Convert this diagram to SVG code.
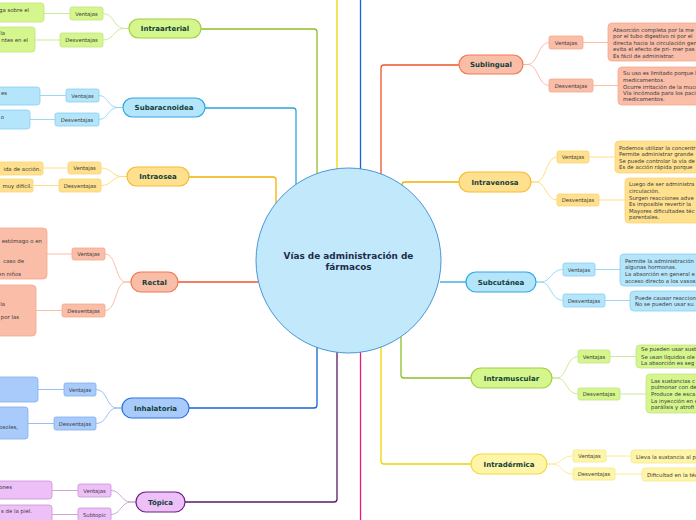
<svg xmlns="http://www.w3.org/2000/svg" width="696" height="520" viewBox="0 0 696 520">
<style>
text{font-family:"DejaVu Sans","Liberation Sans",sans-serif;}
.mt{font-size:7px;font-weight:bold;fill:#123f38;text-anchor:middle;}
.st{font-size:5.3px;fill:#3a3a3a;text-anchor:middle;}
.lt{font-size:5.4px;fill:#3a3a3a;}
.le{font-size:5.4px;fill:#3a3a3a;text-anchor:end;}
.c{fill:none;stroke-width:1.3;}
.s{fill:none;stroke-width:0.9;}
.gr .m{fill:#d5f58d;stroke:#9fd040;stroke-width:1.2;} .gr .b{fill:#d5f58d;stroke:#c2e585;stroke-width:0.8;}
.lb .m{fill:#b5e5fb;stroke:#2ea8e3;stroke-width:1.2;} .lb .b{fill:#b5e5fb;stroke:#86d0f3;stroke-width:0.8;}
.og .m{fill:#ffe08f;stroke:#f7bb2e;stroke-width:1.2;} .og .b{fill:#ffe08f;stroke:#fcd472;stroke-width:0.8;}
.sa .m{fill:#f9bda8;stroke:#f07a52;stroke-width:1.2;} .sa .b{fill:#f9bda8;stroke:#f6a88c;stroke-width:0.8;}
.bl .m{fill:#a9cbfb;stroke:#2a72de;stroke-width:1.2;} .bl .b{fill:#a9cbfb;stroke:#7eaef0;stroke-width:0.8;}
.pu .m{fill:#eec0f8;stroke:#6e1f80;stroke-width:1.2;} .pu .b{fill:#eec0f8;stroke:#c693d6;stroke-width:0.8;}
.ye .m{fill:#fff5a8;stroke:#f0da3a;stroke-width:1.2;} .ye .b{fill:#fff5a8;stroke:#f5e88a;stroke-width:0.8;}
</style>
<g id="connectors">
<path class="c" stroke="#8cc026" d="M201,29 H314 Q317,29 317,32 V174"/>
<path class="c" stroke="#29a3e0" d="M205,108 H293 Q296,108 296,111 V185"/>
<path class="c" stroke="#f5b000" d="M189,177 H273 Q276,177 276,180 V204"/>
<path class="c" stroke="#f0d400" d="M337,0 V169"/>
<path class="c" stroke="#1565d8" d="M360.5,0 V169"/>
<path class="c" stroke="#f0532a" d="M459,65 H384 Q381,65 381,68 V175"/>
<path class="c" stroke="#f5b000" d="M402,186 V185 Q402,182 405,182 H459"/>
<path class="c" stroke="#29a3e0" d="M440,282 H466"/>
<path class="c" stroke="#f0532a" d="M178,282 H258"/>
<path class="c" stroke="#8cc026" d="M401,336 V375 Q401,378 404,378 H471"/>
<path class="c" stroke="#f0d400" d="M381,347 V461 Q381,464 384,464 H471"/>
<path class="c" stroke="#1565d8" d="M317,347 V405 Q317,408 314,408 H189"/>
<path class="c" stroke="#5a1a6a" d="M337,352 V499 Q337,502 334,502 H185"/>
<path class="c" stroke="#f0157a" d="M360.5,352 V520"/>
<!-- subtopic curves left -->
<path class="s" stroke="#c6e68f" d="M129,28.5 L124,28.5 C114,28.5 114,13.5 103,13.5 M129,28.5 L124,28.5 C114,28.5 114,40 103,40 M70,13.5 H44 M60,40 H35"/>
<path class="s" stroke="#8fd4f5" d="M123,107.5 L118,107.5 C108,107.5 108,95.5 99,95.5 M123,107.5 L118,107.5 C108,107.5 108,119.5 99,119.5 M66,95.5 H40 M55,119.5 H30"/>
<path class="s" stroke="#ffd97a" d="M127,176.5 L122,176.5 C112,176.5 112,168 101,168 M127,176.5 L122,176.5 C112,176.5 112,185.5 101,185.5 M68,168 H43 M59,185.5 H33"/>
<path class="s" stroke="#f9b7a0" d="M131,282 L126,282 C115,282 117,254 105,254 M131,282 L126,282 C115,282 117,310.5 105,310.5 M72,254 H47 M62,310.5 H36"/>
<path class="s" stroke="#8fb8f2" d="M122,408 L117,408 C106,408 108,389.5 96,389.5 M122,408 L117,408 C106,408 108,423.5 96,423.5 M64,389.5 H38 M54,423.5 H28"/>
<path class="s" stroke="#c99ad6" d="M136,502 L131,502 C121,502 121,490.5 111,490.5 M136,502 L131,502 C121,502 121,514.5 111,514.5 M78,490.5 H52 M78,514.5 H52"/>
<!-- subtopic curves right -->
<path class="s" stroke="#f9b7a0" d="M523,64.5 L528,64.5 C538,64.5 538,42.5 549,42.5 M523,64.5 L528,64.5 C538,64.5 538,85.5 549,85.5 M583,42.5 H608 M593,85.5 H618"/>
<path class="s" stroke="#ffd97a" d="M531,182 L536,182 C546,182 546,157 557,157 M531,182 L536,182 C546,182 546,200 557,200 M589,157 H615 M599,200 H625"/>
<path class="s" stroke="#8fd4f5" d="M536,282 L541,282 C551,282 551,269.5 563,269.5 M536,282 L541,282 C551,282 551,300.5 563,300.5 M595,269.5 H620 M605,300.5 H630"/>
<path class="s" stroke="#c6e68f" d="M552,378 L557,378 C567,378 566,356.5 578,356.5 M552,378 L557,378 C567,378 566,394 578,394 M610,356.5 H636 M620,394 H646"/>
<path class="s" stroke="#f7ec8a" d="M547,464 L552,464 C562,464 561,456 573,456 M547,464 L552,464 C562,464 561,474 573,474 M606,456 H631 M615,474 H642"/>
</g>
<g id="center">
<circle cx="348.5" cy="260.5" r="92.5" fill="#c2e9fb" stroke="#4a96d6" stroke-width="1"/>
<text x="348.5" y="259" font-size="8.9" font-weight="bold" fill="#1c2c4c" text-anchor="middle">Vías de administración de</text>
<text x="348.5" y="270" font-size="8.9" font-weight="bold" fill="#1c2c4c" text-anchor="middle">fármacos</text>
</g>
<g id="intraarterial" class="gr">
<rect class="m" x="129" y="19" width="72" height="19" rx="9.5"/>
<text class="mt" x="165" y="31">Intraarterial</text>
<rect class="b" x="70" y="7" width="33" height="13" rx="2"/><text class="st" x="86.5" y="15.5">Ventajas</text>
<rect class="b" x="60" y="33" width="43" height="14" rx="2"/><text class="st" x="81.5" y="42">Desventajas</text>
<rect class="b" x="-10" y="3" width="54" height="19" rx="3"/><text class="le" x="29" y="12">ga sobre el</text>
<rect class="b" x="-10" y="27" width="45" height="25" rx="3"/><text class="le" x="5" y="35">la</text><text class="le" x="28" y="42">ntes en el</text>
</g>
<g id="subaracnoidea" class="lb">
<rect class="m" x="123" y="98" width="82" height="19" rx="9.5"/>
<text class="mt" x="164" y="110">Subaracnoidea</text>
<rect class="b" x="66" y="89" width="33" height="13" rx="2"/><text class="st" x="82.5" y="97.5">Ventajas</text>
<rect class="b" x="55" y="113" width="44" height="13" rx="2"/><text class="st" x="77" y="121.5">Desventajas</text>
<rect class="b" x="-10" y="87" width="50" height="18" rx="3"/><text class="le" x="7" y="95">es</text>
<rect class="b" x="-10" y="110" width="40" height="19" rx="3"/><text class="le" x="4" y="119">o</text>
</g>
<g id="intraosea" class="og">
<rect class="m" x="127" y="167" width="62" height="19" rx="9.5"/>
<text class="mt" x="158" y="179">Intraosea</text>
<rect class="b" x="68" y="162" width="33" height="12" rx="2"/><text class="st" x="84.5" y="170">Ventajas</text>
<rect class="b" x="59" y="179" width="42" height="13" rx="2"/><text class="st" x="80" y="187.5">Desventajas</text>
<rect class="b" x="-10" y="162" width="53" height="13" rx="2"/><text class="le" x="41" y="170.5">ida de acción.</text>
<rect class="b" x="-10" y="179" width="43" height="13" rx="2"/><text class="le" x="32" y="187.5">muy difícil.</text>
</g>
<g id="rectal" class="sa">
<rect class="m" x="131" y="272" width="47" height="20" rx="10"/>
<text class="mt" x="154.5" y="284.5">Rectal</text>
<rect class="b" x="72" y="248" width="33" height="12" rx="2"/><text class="st" x="88.5" y="256">Ventajas</text>
<rect class="b" x="62" y="304" width="43" height="13" rx="2"/><text class="st" x="83.5" y="312.5">Desventajas</text>
<rect class="b" x="-10" y="228" width="57" height="51" rx="4"/><text class="le" x="42" y="243">estómago o en</text><text class="le" x="24" y="263">caso de</text><text class="le" x="21" y="276">en niños</text>
<rect class="b" x="-10" y="285" width="46" height="51" rx="4"/><text class="le" x="5" y="306">la</text><text class="le" x="19" y="319">por las</text>
</g>
<g id="inhalatoria" class="bl">
<rect class="m" x="122" y="398" width="67" height="20" rx="10"/>
<text class="mt" x="155.5" y="410.5">Inhalatoria</text>
<rect class="b" x="64" y="383" width="32" height="13" rx="2"/><text class="st" x="80" y="391.5">Ventajas</text>
<rect class="b" x="54" y="417" width="42" height="13" rx="2"/><text class="st" x="75" y="425.5">Desventajas</text>
<rect class="b" x="-10" y="377" width="48" height="25" rx="3"/>
<rect class="b" x="-10" y="407" width="38" height="32" rx="3"/><text class="le" x="18" y="429">osoles,</text>
</g>
<g id="topica" class="pu">
<rect class="m" x="136" y="492" width="49" height="20" rx="10"/>
<text class="mt" x="160.5" y="504.5">Tópica</text>
<rect class="b" x="78" y="484" width="33" height="13" rx="2"/><text class="st" x="94.5" y="492.5">Ventajas</text>
<rect class="b" x="78" y="508" width="33" height="13" rx="2"/><text class="st" x="94.5" y="516.5">Subtopic</text>
<rect class="b" x="-10" y="481" width="62" height="18" rx="3"/><text class="le" x="12" y="489">ones</text>
<rect class="b" x="-10" y="505" width="62" height="20" rx="3"/><text class="le" x="32" y="513">s de la piel.</text>
</g>
<g id="sublingual" class="sa">
<rect class="m" x="459" y="55" width="64" height="19" rx="9.5"/>
<text class="mt" x="491" y="67">Sublingual</text>
<rect class="b" x="549" y="36" width="34" height="13" rx="2"/><text class="st" x="566" y="44.5">Ventajas</text>
<rect class="b" x="549" y="79" width="44" height="13" rx="2"/><text class="st" x="571" y="87.5">Desventajas</text>
<rect class="b" x="608" y="23" width="100" height="38" rx="4"/>
<text class="lt" x="613" y="31.5">Absorción completa por la me</text><text class="lt" x="613" y="38">por el tubo digestivo ni por el</text><text class="lt" x="613" y="44.5">directa hacia la circulación gen</text><text class="lt" x="613" y="51">evita el efecto de pri- mer pas</text><text class="lt" x="613" y="57.5">Es fácil de administrar.</text>
<rect class="b" x="618" y="67" width="90" height="38" rx="4"/>
<text class="lt" x="623" y="75">Su uso es limitado porque l</text><text class="lt" x="623" y="81.5">medicamentos.</text><text class="lt" x="623" y="88.5">Ocurre irritación de la muco</text><text class="lt" x="623" y="94.5">Vía incómoda para los pacie</text><text class="lt" x="623" y="101">medicamentos.</text>
</g>
<g id="intravenosa" class="og">
<rect class="m" x="459" y="172" width="72" height="20" rx="10"/>
<text class="mt" x="495" y="184.5">Intravenosa</text>
<rect class="b" x="557" y="151" width="32" height="12" rx="2"/><text class="st" x="573" y="159">Ventajas</text>
<rect class="b" x="557" y="194" width="42" height="12" rx="2"/><text class="st" x="578" y="202">Desventajas</text>
<rect class="b" x="615" y="141" width="90" height="32" rx="4"/>
<text class="lt" x="619" y="149.5">Podemos utilizar la concentr</text><text class="lt" x="619" y="156">Permite administrar grande</text><text class="lt" x="619" y="162.5">Se puede controlar la vía de</text><text class="lt" x="619" y="169">Es de acción rápida porque</text>
<rect class="b" x="625" y="178" width="80" height="45" rx="4"/>
<text class="lt" x="629" y="186">Luego de ser administra</text><text class="lt" x="629" y="193">circulación.</text><text class="lt" x="629" y="199.5">Surgen reacciones adve</text><text class="lt" x="629" y="206">Es imposible revertir la</text><text class="lt" x="629" y="212.5">Mayores dificultades téc</text><text class="lt" x="629" y="219">parentales.</text>
</g>
<g id="subcutanea" class="lb">
<rect class="m" x="466" y="272" width="70" height="20" rx="10"/>
<text class="mt" x="501" y="284.5">Subcutánea</text>
<rect class="b" x="563" y="263" width="32" height="13" rx="2"/><text class="st" x="579" y="271.5">Ventajas</text>
<rect class="b" x="563" y="294" width="42" height="13" rx="2"/><text class="st" x="584" y="302.5">Desventajas</text>
<rect class="b" x="620" y="254" width="85" height="32" rx="4"/>
<text class="lt" x="625" y="262.5">Permite la administración</text><text class="lt" x="625" y="269">algunas hormonas.</text><text class="lt" x="625" y="276">La absorción en general e</text><text class="lt" x="625" y="282.5">acceso directo a los vasos</text>
<rect class="b" x="630" y="291" width="75" height="20" rx="4"/>
<text class="lt" x="635" y="299.5">Puede causar reaccion</text><text class="lt" x="635" y="306">No se pueden usar su</text>
</g>
<g id="intramuscular" class="gr">
<rect class="m" x="471" y="368" width="81" height="20" rx="10"/>
<text class="mt" x="511.5" y="380.5">Intramuscular</text>
<rect class="b" x="578" y="350" width="32" height="13" rx="2"/><text class="st" x="594" y="358.5">Ventajas</text>
<rect class="b" x="578" y="388" width="42" height="12" rx="2"/><text class="st" x="599" y="396">Desventajas</text>
<rect class="b" x="636" y="345" width="70" height="23" rx="4"/>
<text class="lt" x="641" y="351">Se pueden usar sust</text><text class="lt" x="641" y="358.5">Se usan líquidos ole</text><text class="lt" x="641" y="365">La absorción es seg</text>
<rect class="b" x="646" y="374" width="60" height="39" rx="4"/>
<text class="lt" x="651" y="382.5">Las sustancias c</text><text class="lt" x="651" y="389">pulmonar con de</text><text class="lt" x="651" y="396">Produce de esca</text><text class="lt" x="651" y="402.5">La inyección en e</text><text class="lt" x="651" y="409">parálisis y atrofi</text>
</g>
<g id="intradermica" class="ye">
<rect class="m" x="471" y="454" width="76" height="20" rx="10"/>
<text class="mt" x="509" y="466.5">Intradérmica</text>
<rect class="b" x="573" y="450" width="33" height="12" rx="2"/><text class="st" x="589.5" y="458">Ventajas</text>
<rect class="b" x="573" y="468" width="42" height="12" rx="2"/><text class="st" x="594" y="476">Desventajas</text>
<rect class="b" x="631" y="450" width="75" height="13" rx="3"/><text class="lt" x="636" y="459">Lleva la sustancia al p</text>
<rect class="b" x="642" y="468" width="64" height="13" rx="3"/><text class="lt" x="647" y="476.5">Dificultad en la téc</text>
</g>
</svg>
